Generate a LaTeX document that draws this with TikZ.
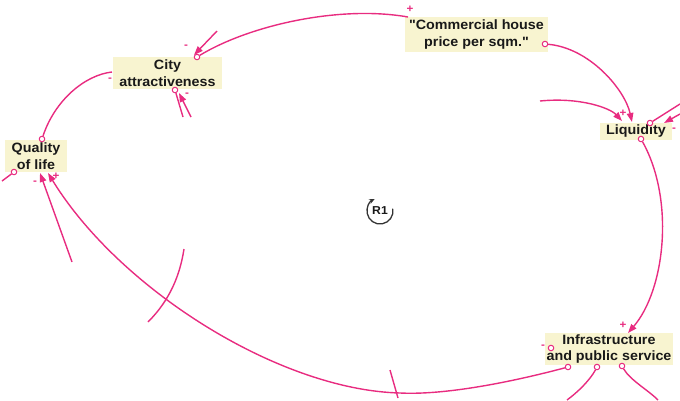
\documentclass[tikz,border=0pt]{standalone}
\usepackage{fontspec}
\newfontfamily\labelfont{Liberation Sans}[FakeStretch=1.06]
\usetikzlibrary{arrows.meta,calc}
\definecolor{linkpink}{RGB}{232,44,128}
\definecolor{varfill}{RGB}{248,244,208}
\definecolor{vartext}{RGB}{25,25,25}
\tikzset{
  var/.style={fill=varfill, text=vartext, font=\labelfont\bfseries\fontsize{13.5}{16.5}\selectfont,
    align=center, inner sep=0pt},
  link/.style={draw=linkpink, line width=1.4pt},
  arr/.style={-{Triangle[length=9pt,width=6.5pt]}},
  tail/.style={circle, draw=linkpink, fill=white, line width=1pt, minimum size=5.5pt, inner sep=0pt},
  pol/.style={text=linkpink, font=\labelfont\bfseries\fontsize{11}{11}\selectfont, inner sep=0pt},
}
\begin{document}
\begin{tikzpicture}[x=1pt,y=-1pt]
\useasboundingbox (0,0) rectangle (680,400);

% variables
\node[var, minimum width=143pt, minimum height=35pt] (comm) at (476.5,34.5) {"Commercial house\\price per sqm."};
\node[var, minimum width=72pt, minimum height=17pt] (liq) at (636,131) {Liquidity};
\node[var, minimum width=128pt, minimum height=32pt] (infra) at (609,349) {Infrastructure\\and public service};
\node[var, minimum width=109pt, minimum height=32pt] (city) at (167.5,73) {City\\attractiveness};
\node[var, minimum width=62pt, minimum height=32pt] (qol) at (36,156) {Quality\\of life};

% loop marker
\node[font=\labelfont\bfseries\fontsize{11.5}{11.5}\selectfont, text=vartext] (r1) at (380,211) {R1};
\draw[line width=1.3pt, draw=black!80, -{Stealth[length=5.5pt,width=5pt]}]
  ($(r1)+(10:13pt)$) arc[start angle=10, end angle=-245, radius=13pt];

% link tails
\node[tail] (tcity) at (197,57) {};
\node[tail] (tqol) at (42,139) {};
\node[tail] (tcomm) at (545,44) {};
\node[tail] (tliq) at (641,139) {};
\node[tail] (tliqr) at (650,123) {};
\node[tail] (tinfa) at (568,367) {};
\node[tail] (tinfb) at (597,367) {};
\node[tail] (tinfc) at (622,366) {};
\node[tail] (tinfl) at (551,348) {};
\node[tail] (tqoll) at (14,172) {};
\node[tail] (tcityb) at (175,90) {};

% link ends
\coordinate (hcomm) at (408,17);
\coordinate (hcity) at (112,72);
\coordinate (hliq) at (632,122);
\coordinate (hliqs) at (622,121);
\coordinate (hinfra) at (628,333);
\coordinate (hqol) at (48,173);
\coordinate (hqols) at (40,173);
\coordinate (hcitys) at (194,55);
\coordinate (hcityb) at (179,93);
\coordinate (hliqr) at (664,123);

% loose ends of partial links
\coordinate (sa) at (217,31);
\coordinate (sb) at (540,101);
\coordinate (sc) at (680,104);
\coordinate (sd) at (680,114);
\coordinate (se) at (567,400);
\coordinate (sf) at (658,400);
\coordinate (sg) at (72,262);
\coordinate (sh) at (2,181);
\coordinate (si) at (183,117);
\coordinate (sj) at (191,117);
\coordinate (sk1) at (148,322);
\coordinate (sk2) at (184,249);
\coordinate (sl1) at (390,370);
\coordinate (sl2) at (398,398);
\coordinate (bot) at (400,393);

% main loop
\draw[link] (tcity) .. controls (250,25) and (340,5) .. (hcomm);
\draw[link, arr] (tcomm) .. controls (590,48) and (625,90) .. (hliq);
\draw[link, arr] (tliq) .. controls (675,200) and (665,290) .. (hinfra);
\draw[link, arr] (tinfa) .. controls (500,385) and (440,395) .. (bot)
  .. controls (280,390) and (120,290) .. (hqol);
\draw[link] (tqol) .. controls (55,100) and (85,75) .. (hcity);

% partial links
\draw[link, arr] (sa) -- (hcitys);
\draw[link, arr] (sb) .. controls (580,97) and (610,108) .. (hliqs);
\draw[link] (tliqr) -- (sc);
\draw[link, arr] (sd) -- (hliqr);
\draw[link] (tinfb) .. controls (590,380) and (578,392) .. (se);
\draw[link] (tinfc) .. controls (630,380) and (648,390) .. (sf);
\draw[link, arr] (sg) -- (hqols);
\draw[link] (tqoll) -- (sh);
\draw[link] (si) -- (tcityb);
\draw[link, arr] (sj) -- (hcityb);
\draw[link] (sk1) .. controls (170,300) and (180,275) .. (sk2);
\draw[link] (sl1) -- (sl2);

% polarities
\node[pol] (p1) at (410,9) {+};
\node[pol] (p2) at (186,47) {-};
\node[pol] (p3) at (110,80) {-};
\node[pol] (p4) at (623,113) {+};
\node[pol] (p5) at (623,325) {+};
\node[pol] (p6) at (56,176) {+};
\node[pol] (p7) at (35,183) {-};
\node[pol] (p8) at (543,347) {-};
\node[pol] (p9) at (187,95) {-};
\node[pol] (p10) at (674,130) {-};
\end{tikzpicture}
\end{document}
